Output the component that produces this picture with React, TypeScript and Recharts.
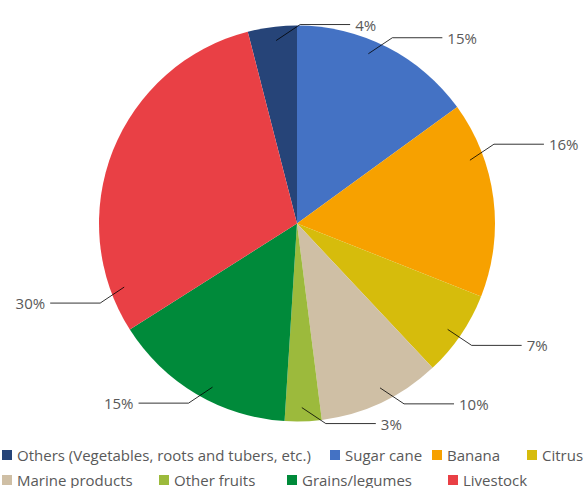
import React from "react";
import { PieChart, Pie, Cell, Legend } from "recharts";

// categories in legend order (Others first), pie drawn clockwise from just left of 12 o'clock
const categories = [
  "Others (Vegetables, roots and tubers, etc.)",
  "Sugar cane",
  "Banana",
  "Citrus",
  "Marine products",
  "Other fruits",
  "Grains/legumes",
  "Livestock",
];
const shares = [4, 15, 16, 7, 10, 3, 15, 30];
const colors = ["#264478", "#4472C4", "#F7A100", "#D6BC0C", "#CFBFA5", "#9CBA3C", "#008A3A", "#E94045"];

const data = categories.map((name, i) => ({ name, value: shares[i] }));

// leader-line anchor tweaks (degrees off the slice middle), like Excel's best-fit
const labelNudge = [-0.7, 4.2, 12.9, -0.9, 1.6, -0.3, 3.3, 41.8];
// legend item left positions, two rows of four
const legendX = [2, 330, 432, 527, 2, 159, 287, 448];

const RAD = Math.PI / 180;
const FONT = "'Open Sans', sans-serif";

const renderLabel = (props: any) => {
  const { cx, cy, midAngle, outerRadius, index, value } = props;
  const a = (midAngle + labelNudge[index]) * RAD;
  const r0 = outerRadius * 0.93;
  const sx = cx + r0 * Math.cos(a);
  const sy = cy - r0 * Math.sin(a);
  // labels near the top go to the right, like the original
  const right = Math.cos(a) > -0.2;
  const up = Math.sin(a) > 0;
  const ex = sx + (right ? 24 : -24);
  const ey = sy + (up ? -16 : 16);
  const hx = ex + (right ? 50 : -50);
  return (
    <g>
      <polyline
        points={`${sx},${sy} ${ex},${ey} ${hx},${ey}`}
        fill="none"
        stroke="#000"
        strokeWidth={0.8}
      />
      <text
        x={hx + (right ? 5 : -5)}
        y={ey}
        textAnchor={right ? "start" : "end"}
        dominantBaseline="central"
        fill="#595959"
        fontSize={15}
        fontFamily={FONT}
      >
        {`${value}%`}
      </text>
    </g>
  );
};

const renderLegend = (props: any) => {
  const items = [...(props.payload || [])].sort(
    (a: any, b: any) => categories.indexOf(a.value) - categories.indexOf(b.value)
  );
  return (
    <div style={{ position: "relative", width: 585, height: 44, fontFamily: FONT, fontSize: 15, color: "#595959" }}>
      {items.map((entry: any, i: number) => (
        <div
          key={entry.value}
          style={{
            position: "absolute",
            left: legendX[i],
            top: i < 4 ? 0 : 25,
            height: 20,
            lineHeight: "20px",
            whiteSpace: "nowrap",
            display: "flex",
            alignItems: "center",
          }}
        >
          <span style={{ width: 10, height: 10, background: entry.color, marginRight: 5, display: "inline-block" }} />
          {entry.value}
        </div>
      ))}
    </div>
  );
};

export default function App() {
  const start = 90 + shares[0] * 3.6;
  return (
    <div style={{ position: "absolute", left: 0, top: 0, width: 585, height: 488, background: "#fff", overflow: "hidden" }}>
      <PieChart width={585} height={488} margin={{ top: 0, right: 0, bottom: 0, left: 0 }}>
        <Pie
          data={data}
          dataKey="value"
          nameKey="name"
          cx={297}
          cy={223.5}
          outerRadius={198}
          startAngle={start}
          endAngle={start - 360}
          stroke="none"
          label={renderLabel}
          labelLine={false}
          isAnimationActive={false}
        >
          {data.map((d, i) => (
            <Cell key={d.name} fill={colors[i]} />
          ))}
        </Pie>
        <Legend content={renderLegend} wrapperStyle={{ left: 0, top: 445, width: 585, height: 44 }} />
      </PieChart>
    </div>
  );
}
